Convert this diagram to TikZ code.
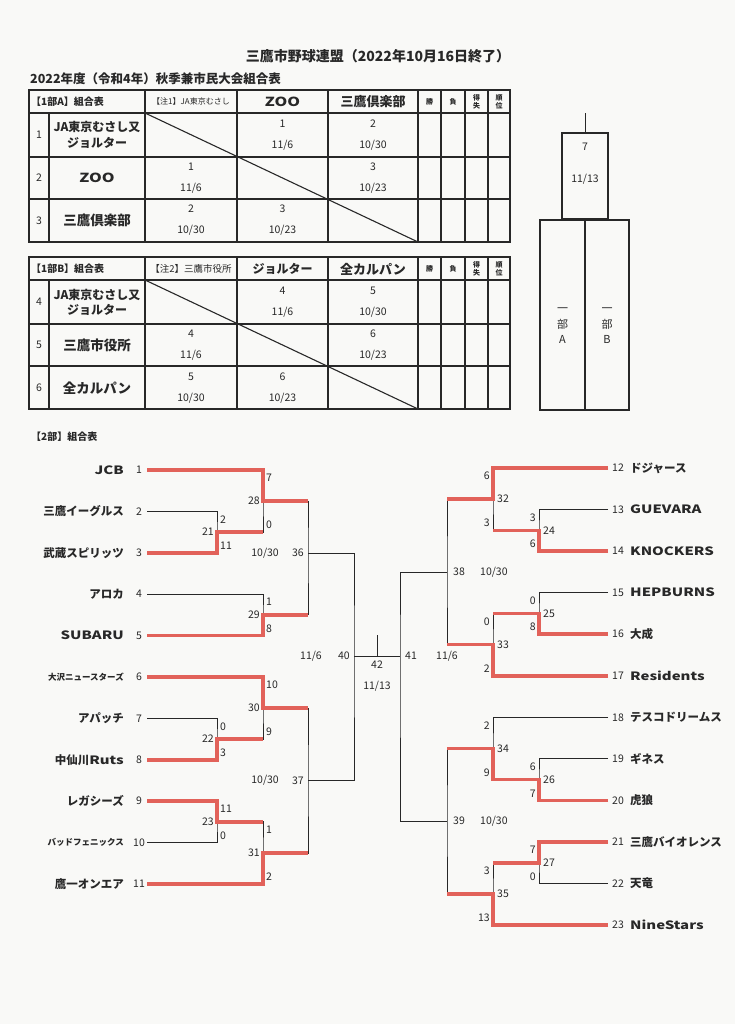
\documentclass[tikz,border=0pt]{standalone}
\usepackage{fontspec}
\setmainfont{Noto Sans CJK JP}
\newfontfamily\wide[FakeStretch=1.3]{Noto Sans CJK JP}
\definecolor{ink}{RGB}{40,40,40}
\definecolor{winred}{RGB}{226,98,90}
\definecolor{paper}{RGB}{249,249,247}
\tikzset{wire/.style = {draw=ink, line width=0.9pt}}
\tikzset{win/.style = {draw=winred, line width=3.6pt}}
\tikzset{grid/.style = {draw=ink, line width=1.1pt}}
\tikzset{pane/.style = {rectangle, draw=ink, line width=1.1pt, inner sep=0pt}}
\tikzset{txt/.style = {text=ink, inner sep=1pt, align=center}}
\tikzset{team/.style = {txt, font=\bfseries\fontsize{11.5}{12}\selectfont}}
\tikzset{score/.style = {txt, font=\fontsize{10.5}{11}\selectfont}}
\tikzset{cell/.style = {txt, font=\fontsize{10.5}{21}\selectfont}}
\tikzset{hd/.style = {txt, font=\bfseries\fontsize{10}{11}\selectfont}}
\tikzset{note/.style = {txt, font=\fontsize{8}{9}\selectfont}}
\tikzset{colhd/.style = {txt, font=\bfseries\fontsize{13}{14}\selectfont}}
\tikzset{rowname/.style = {txt, font=\bfseries\fontsize{13.5}{16}\selectfont}}
\tikzset{tiny/.style = {txt, font=\bfseries\fontsize{7}{8}\selectfont}}

\begin{document}
\begin{tikzpicture}[x=1pt, y=-1pt]
	\useasboundingbox (0,0) rectangle (735,1024);
	\fill[paper] (0,0) rectangle (735,1024);

	\node (title) 	[txt, font=\bfseries\fontsize{14}{16}\selectfont] at (378,56) {三鷹市野球連盟（2022年10月16日終了）};
	\node (season) 	[txt, font=\bfseries\fontsize{12.5}{14}\selectfont, anchor=west] at (29,79) {2022年度（令和4年）秋季兼市民大会組合表};

	% round robin grids, 1部A and 1部B
	\foreach \dy in {0,167} {
		\begin{scope}[shift={(0,\dy)}]
			\draw[grid] (29,90) rectangle (510,242);
			\foreach \y in {113,157,199} \draw[grid] (29,\y) -- (510,\y);
			\draw[grid] (49,113) -- (49,242);
			\foreach \x in {145,237,328,418,441,465,488} \draw[grid] (\x,90) -- (\x,242);
			\draw[grid] (145,113) -- (418,242);
		\end{scope}
	}
	\foreach \t/\y in {A/101.5,B/269} {
		\node (win\t) 	[tiny] at (429.5,\y) {勝};
		\node (lose\t) 	[tiny] at (453,\y) {負};
		\node (diff\t) 	[tiny] at (476.5,\y) {得\\失};
		\node (rank\t) 	[tiny] at (499,\y) {順\\位};
	}

	\node (headA) 	[hd, anchor=west] at (30,101.5) {【1部A】組合表};
	\node (noteA) 	[note] at (191,101.5) {【注1】JA東京むさし};
	\node (colA2) 	[colhd, font=\bfseries\wide\fontsize{12.5}{14}\selectfont] at (282.5,101.5) {ZOO};
	\node (colA3) 	[colhd] at (373,101.5) {三鷹倶楽部};
	\node (noA1) 	[score] at (39,135) {1};
	\node (rowA1) 	[rowname, font=\bfseries\fontsize{12}{16}\selectfont] at (97,135) {JA東京むさし又\\ジョルター};
	\node (noA2) 	[score] at (39,178) {2};
	\node (rowA2) 	[rowname, font=\bfseries\wide\fontsize{12.5}{14}\selectfont] at (97,178) {ZOO};
	\node (noA3) 	[score] at (39,220.5) {3};
	\node (rowA3) 	[rowname] at (97,220.5) {三鷹倶楽部};
	\node (a12) 	[cell] at (282.5,135) {1\\11/6};
	\node (a13) 	[cell] at (373,135) {2\\10/30};
	\node (a21) 	[cell] at (191,178) {1\\11/6};
	\node (a23) 	[cell] at (373,178) {3\\10/23};
	\node (a31) 	[cell] at (191,220.5) {2\\10/30};
	\node (a32) 	[cell] at (282.5,220.5) {3\\10/23};

	\node (headB) 	[hd, anchor=west] at (30,269) {【1部B】組合表};
	\node (noteB) 	[note, font=\fontsize{9.5}{10}\selectfont] at (191,269) {【注2】三鷹市役所};
	\node (colB2) 	[colhd, font=\bfseries\fontsize{12}{14}\selectfont] at (282.5,269) {ジョルター};
	\node (colB3) 	[colhd] at (373,269) {全カルパン};
	\node (noB1) 	[score] at (39,302) {4};
	\node (rowB1) 	[rowname, font=\bfseries\fontsize{12}{15}\selectfont] at (97,302) {JA東京むさし又\\ジョルター};
	\node (noB2) 	[score] at (39,345) {5};
	\node (rowB2) 	[rowname] at (97,345) {三鷹市役所};
	\node (noB3) 	[score] at (39,388) {6};
	\node (rowB3) 	[rowname] at (97,388) {全カルパン};
	\node (b12) 	[cell] at (282.5,302) {4\\11/6};
	\node (b13) 	[cell] at (373,302) {5\\10/30};
	\node (b21) 	[cell] at (191,345) {4\\11/6};
	\node (b23) 	[cell] at (373,345) {6\\10/23};
	\node (b31) 	[cell] at (191,388) {5\\10/30};
	\node (b32) 	[cell] at (282.5,388) {6\\10/23};

	% 1部 final
	\node (final) 	[pane, minimum width=46, minimum height=86] at (585,176) {};
	\coordinate (finaltop) at (585,113);
	\draw[wire] (final) -- (finaltop);
	\node (finalno) 	[score] at (585,147) {7};
	\node (finaldate) 	[score] at (585,179) {11/13};
	\node (divA) 	[pane, minimum width=45, minimum height=190] at (562.5,315) {};
	\node (divB) 	[pane, minimum width=44, minimum height=190] at (607,315) {};
	\node (labA) 	[txt, font=\fontsize{11}{15.5}\selectfont] at (562.5,326) {一\\部\\A};
	\node (labB) 	[txt, font=\fontsize{11}{15.5}\selectfont] at (607,326) {一\\部\\B};

	\node (head2) 	[hd, anchor=west] at (30,437) {【2部】組合表};

	% teams
	\foreach \i/\y/\name in {1/470/{\wide JCB}, 2/511.4/三鷹イーグルス, 3/552.8/武蔵スピリッツ, 4/594.2/アロカ, 5/635.6/{\wide SUBARU}, 6/677/{\fontsize{8.5}{9}\selectfont 大沢ニュースターズ}, 7/718.4/アパッチ, 8/759.8/{中仙川\wide Ruts}, 9/801.2/レガシーズ, 10/842.6/{\fontsize{8.5}{9}\selectfont バッドフェニックス}, 11/884/鷹一オンエア} {
		\coordinate (t\i) at (147,\y);
		\node (no\i) 	[score] at (139,\y) {\i};
		\node (name\i) 	[team, anchor=east] at (125,\y) {\name};
	}
	\foreach \i/\y/\name in {12/468/ドジャース, 13/509.55/{\wide GUEVARA}, 14/551.1/{\wide KNOCKERS}, 15/592.65/{\wide HEPBURNS}, 16/634.2/大成, 17/675.75/{\wide Residents}, 18/717.3/テスコドリームス, 19/758.85/ギネス, 20/800.4/虎狼, 21/841.95/三鷹バイオレンス, 22/883.5/天竜, 23/925.05/{\wide NineStars}} {
		\coordinate (t\i) at (608,\y);
		\node (no\i) 	[score, anchor=west] at (611,\y) {\i};
		\node (name\i) 	[team, anchor=west] at (629,\y) {\name};
	}

	% match points
	\coordinate (m21) at (217,532.1);
	\coordinate (m28) at (263,501);
	\coordinate (m29) at (263,614.9);
	\coordinate (m36) at (308,553);
	\coordinate (m22) at (217,739.1);
	\coordinate (m30) at (263,708);
	\coordinate (m23) at (217,821.9);
	\coordinate (m31) at (263,853);
	\coordinate (m37) at (308,780.5);
	\coordinate (m40) at (354,656);
	\coordinate (m42) at (377,656);
	\coordinate (m42top) at (377,635);
	\coordinate (m41) at (400,656);
	\coordinate (m24) at (539,530.3);
	\coordinate (m32) at (493,499.2);
	\coordinate (m25) at (539,613.4);
	\coordinate (m33) at (493,644.6);
	\coordinate (m38) at (447,572);
	\coordinate (m26) at (539,779.6);
	\coordinate (m34) at (493,748.5);
	\coordinate (m27) at (539,862.7);
	\coordinate (m35) at (493,893.9);
	\coordinate (m39) at (447,821.2);

	\draw[wire] (t2) -| (m21) |- (t3);
	\draw[wire] (t1) -| (m28) |- (m21);
	\draw[wire] (t4) -| (m29) |- (t5);
	\draw[wire] (m28) -| (m36) |- (m29);
	\draw[wire] (t7) -| (m22) |- (t8);
	\draw[wire] (t6) -| (m30) |- (m22);
	\draw[wire] (t9) -| (m23) |- (t10);
	\draw[wire] (m23) -| (m31) |- (t11);
	\draw[wire] (m30) -| (m37) |- (m31);
	\draw[wire] (m36) -| (m40) |- (m37);
	\draw[wire] (m40) -- (m41);
	\draw[wire] (m42) -- (m42top);
	\draw[wire] (m38) -| (m41) |- (m39);
	\draw[wire] (t13) -| (m24) |- (t14);
	\draw[wire] (t12) -| (m32) |- (m24);
	\draw[wire] (t15) -| (m25) |- (t16);
	\draw[wire] (m25) -| (m33) |- (t17);
	\draw[wire] (m32) -| (m38) |- (m33);
	\draw[wire] (t19) -| (m26) |- (t20);
	\draw[wire] (t18) -| (m34) |- (m26);
	\draw[wire] (t21) -| (m27) |- (t22);
	\draw[wire] (m27) -| (m35) |- (t23);
	\draw[wire] (m34) -| (m39) |- (m35);

	% winners
	\draw[win] (t1) -| (m28) -- (m28 -| m36);
	\draw[win] (t3) -| (m21) -- (m21 -| m28);
	\draw[win] (t5) -| (m29) -- (m29 -| m36);
	\draw[win] (t6) -| (m30) -- (m30 -| m37);
	\draw[win] (t8) -| (m22) -- (m22 -| m30);
	\draw[win] (t9) -| (m23) -- (m23 -| m31);
	\draw[win] (t11) -| (m31) -- (m31 -| m37);
	\draw[win] (t12) -| (m32) -- (m32 -| m38);
	\draw[win] (t14) -| (m24) -- (m24 -| m32);
	\draw[win] (t16) -| (m25) -- (m25 -| m33);
	\draw[win] (t17) -| (m33) -- (m33 -| m38);
	\draw[win] (t20) -| (m26) -| (m34) -- (m34 -| m39);
	\draw[win] (t21) -| (m27) -- (m27 -| m35);
	\draw[win] (t23) -| (m35) -- (m35 -| m39);

	% scores, left half
	\node (s28a) [score, anchor=west] at (265,478) {7};
	\node (s28b) [score, anchor=west] at (265,525) {0};
	\node (s21a) [score, anchor=west] at (219,519.4) {2};
	\node (s21b) [score, anchor=west] at (219,546) {11};
	\node (s29a) [score, anchor=west] at (265,602) {1};
	\node (s29b) [score, anchor=west] at (265,628.6) {8};
	\node (s30a) [score, anchor=west] at (265,685) {10};
	\node (s30b) [score, anchor=west] at (265,732) {9};
	\node (s22a) [score, anchor=west] at (219,726.4) {0};
	\node (s22b) [score, anchor=west] at (219,752.8) {3};
	\node (s23a) [score, anchor=west] at (219,809) {11};
	\node (s23b) [score, anchor=west] at (219,835.6) {0};
	\node (s31a) [score, anchor=west] at (265,830) {1};
	\node (s31b) [score, anchor=west] at (265,877) {2};
	\node (n28) [score, anchor=east] at (261,501) {28};
	\node (n21) [score, anchor=east] at (215,532.1) {21};
	\node (n29) [score, anchor=east] at (261,614.9) {29};
	\node (n30) [score, anchor=east] at (261,708) {30};
	\node (n22) [score, anchor=east] at (215,739.1) {22};
	\node (n23) [score, anchor=east] at (215,821.9) {23};
	\node (n31) [score, anchor=east] at (261,853) {31};
	\node (n36) [score, anchor=east] at (305,553) {36};
	\node (d36) [score, anchor=east] at (280,553) {10/30};
	\node (n37) [score, anchor=east] at (305,780.5) {37};
	\node (d37) [score, anchor=east] at (280,780.5) {10/30};
	\node (n40) [score, anchor=east] at (351,656) {40};
	\node (d40) [score, anchor=east] at (323,656) {11/6};
	\node (n42) [score] at (377,665) {42};
	\node (d42) [score] at (377,686) {11/13};

	% scores, right half
	\node (s32a) [score, anchor=east] at (491,476) {6};
	\node (s32b) [score, anchor=east] at (491,523) {3};
	\node (s24a) [score, anchor=east] at (537,517.5) {3};
	\node (s24b) [score, anchor=east] at (537,544) {6};
	\node (s25a) [score, anchor=east] at (537,600.6) {0};
	\node (s25b) [score, anchor=east] at (537,627) {8};
	\node (s33a) [score, anchor=east] at (491,621.4) {0};
	\node (s33b) [score, anchor=east] at (491,668.7) {2};
	\node (s34a) [score, anchor=east] at (491,725.3) {2};
	\node (s34b) [score, anchor=east] at (491,772.6) {9};
	\node (s26a) [score, anchor=east] at (537,766.8) {6};
	\node (s26b) [score, anchor=east] at (537,793.4) {7};
	\node (s27a) [score, anchor=east] at (537,850) {7};
	\node (s27b) [score, anchor=east] at (537,876.5) {0};
	\node (s35a) [score, anchor=east] at (491,870.7) {3};
	\node (s35b) [score, anchor=east] at (491,918) {13};
	\node (n32) [score, anchor=west] at (496,499.2) {32};
	\node (n24) [score, anchor=west] at (542,530.3) {24};
	\node (n25) [score, anchor=west] at (542,613.4) {25};
	\node (n33) [score, anchor=west] at (496,644.6) {33};
	\node (n34) [score, anchor=west] at (496,748.5) {34};
	\node (n26) [score, anchor=west] at (542,779.6) {26};
	\node (n27) [score, anchor=west] at (542,862.7) {27};
	\node (n35) [score, anchor=west] at (496,893.9) {35};
	\node (n38) [score, anchor=west] at (452,572) {38};
	\node (d38) [score, anchor=west] at (479,572) {10/30};
	\node (n39) [score, anchor=west] at (452,821.2) {39};
	\node (d39) [score, anchor=west] at (479,821.2) {10/30};
	\node (n41) [score, anchor=west] at (404,656) {41};
	\node (d41) [score, anchor=west] at (435,656) {11/6};
\end{tikzpicture}
\end{document}
